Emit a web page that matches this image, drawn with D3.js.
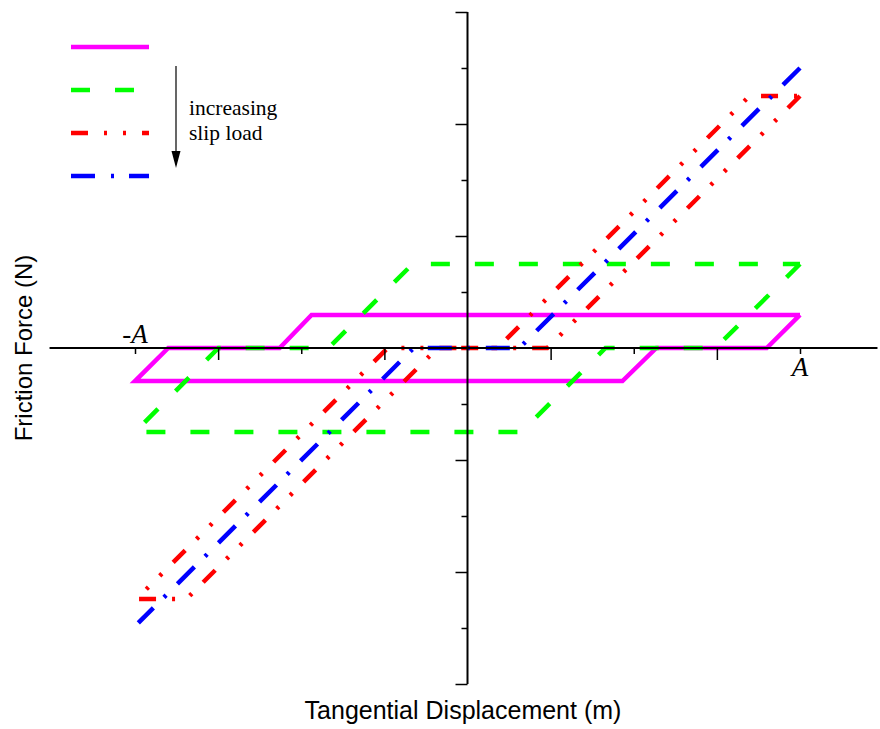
<!DOCTYPE html>
<html>
<head>
<meta charset="utf-8">
<script src="https://cdn.jsdelivr.net/npm/d3@7"></script>
<style>
  body { margin: 0; background: #fff; }
  svg { display: block; }
</style>
</head>
<body>
<svg id="chart" width="880" height="729"></svg>
<script>
// displacement in units of A, force in tick units
var xAxisExtent = [-1.257, 1.233]
var yAxisExtent = [-6, 6]
var xTicksMajor = [-0.75, -0.25, 0.25, 0.75]
var xTicksMinor = [-1, -0.5, 0.5, 1]
var yTicksMajor = [-6, -4, -2, 2, 4, 6]
var yTicksMinor = [-5, -3, -1, 1, 3, 5]

// hysteresis loops, one per slip load
var loopMagenta = [[1.0, 0.59], [0.9, 0], [0.568, 0], [0.466, -0.59], [-1.0, -0.59], [-0.9, 0], [-0.565, 0], [-0.469, 0.59], [1.0, 0.59]]
var loopGreen = [[1.0, 1.5], [0.746, 0], [0.415, 0], [0.162, -1.5], [-1.0, -1.5], [-0.749, 0], [-0.418, 0], [-0.165, 1.5], [1.0, 1.5]]
var loopRed = [[1.0, 4.5], [0.24, 0], [-0.09, 0], [-0.845, -4.48], [-0.995, -4.48], [-0.24, 0], [0.09, 0], [0.848, 4.5], [1.0, 4.5]]
var loopBlue = [[1.0, 5.0], [0.156, 0], [-0.162, 0], [-0.99, -4.91]]

var seriesColors = ["#ff00ff", "#00ff00", "#ff0000", "#0000ff"]
var seriesDashes = ["none", "19,25", "17,16,3,16,3,16", "24,16,3,15"]
var legendNote = ["increasing", "slip load"]

var svg = d3.select("#chart")

var x = d3.scaleLinear().domain([-1, 1]).range([135, 800])
var y = d3.scaleLinear().domain(yAxisExtent).range([684, 12])

var line = d3.line()
  .x(d => x(d[0]))
  .y(d => y(d[1]))

var loops = [loopMagenta, loopGreen, loopRed, loopBlue]

svg.append("g")
  .selectAll("path")
  .data(loops)
  .enter()
  .append("path")
  .attr("d", d => line(d))
  .attr("fill", "none")
  .attr("stroke", (d, i) => seriesColors[i])
  .attr("stroke-width", 4.5)
  .attr("stroke-dasharray", (d, i) => seriesDashes[i])
  .attr("stroke-linejoin", "miter")

// axes cross at origin, drawn over the loops
svg.append("line")
  .attr("x1", x(xAxisExtent[0]))
  .attr("x2", x(xAxisExtent[1]))
  .attr("y1", y(0))
  .attr("y2", y(0))
  .attr("stroke", "black")
  .attr("stroke-width", 2)

svg.append("line")
  .attr("x1", x(0))
  .attr("x2", x(0))
  .attr("y1", y(yAxisExtent[0]))
  .attr("y2", y(yAxisExtent[1]))
  .attr("stroke", "black")
  .attr("stroke-width", 2)

function drawTicks(axis, transform) {
  var g = svg.append("g")
    .attr("transform", transform)
    .call(axis)
  g.select(".domain").remove()
  g.selectAll(".tick line").attr("stroke", "black").attr("stroke-width", 1.5)
}

drawTicks(d3.axisBottom(x).tickValues(xTicksMajor).tickSize(12).tickFormat(""), "translate(0," + y(0) + ")")
drawTicks(d3.axisBottom(x).tickValues(xTicksMinor).tickSize(6).tickFormat(""), "translate(0," + y(0) + ")")
drawTicks(d3.axisLeft(y).tickValues(yTicksMajor).tickSize(12).tickFormat(""), "translate(" + x(0) + ",0)")
drawTicks(d3.axisLeft(y).tickValues(yTicksMinor).tickSize(6).tickFormat(""), "translate(" + x(0) + ",0)")

// amplitude labels
svg.append("text")
  .attr("x", x(-1))
  .attr("y", y(0) - 5)
  .attr("text-anchor", "middle")
  .style("font-family", "'Liberation Serif', 'Times New Roman', serif")
  .style("font-size", "27px")
  .style("font-style", "italic")
  .text("-A")

svg.append("text")
  .attr("x", x(1))
  .attr("y", y(0) + 28)
  .attr("text-anchor", "middle")
  .style("font-family", "'Liberation Serif', 'Times New Roman', serif")
  .style("font-size", "27px")
  .style("font-style", "italic")
  .text("A")

// axis titles
svg.append("text")
  .attr("x", 463)
  .attr("y", 719)
  .attr("text-anchor", "middle")
  .style("font-family", "'Liberation Sans', Arial, sans-serif")
  .style("font-size", "25px")
  .text("Tangential Displacement (m)")

svg.append("text")
  .attr("transform", "translate(32,348) rotate(-90)")
  .attr("text-anchor", "middle")
  .style("font-family", "'Liberation Sans', Arial, sans-serif")
  .style("font-size", "24px")
  .text("Friction Force (N)")

// legend: line samples only, with an arrow note
var legend = svg.append("g")
legend.selectAll("line")
  .data(seriesColors)
  .enter()
  .append("line")
  .attr("x1", 71)
  .attr("x2", 149)
  .attr("y1", (d, i) => 47 + i * 43)
  .attr("y2", (d, i) => 47 + i * 43)
  .attr("stroke", d => d)
  .attr("stroke-width", 4.5)
  .attr("stroke-dasharray", (d, i) => seriesDashes[i])

legend.append("line")
  .attr("x1", 176).attr("x2", 176)
  .attr("y1", 66).attr("y2", 154)
  .attr("stroke", "black")
  .attr("stroke-width", 1.2)
legend.append("path")
  .attr("d", "M171.5,151 L180.5,151 L176,168 Z")
  .attr("fill", "black")

legend.selectAll("text")
  .data(legendNote)
  .enter()
  .append("text")
  .attr("x", 189)
  .attr("y", (d, i) => 115 + i * 25)
  .style("font-family", "'Liberation Serif', 'Times New Roman', serif")
  .style("font-size", "21.5px")
  .text(d => d)
</script>
</body>
</html>
